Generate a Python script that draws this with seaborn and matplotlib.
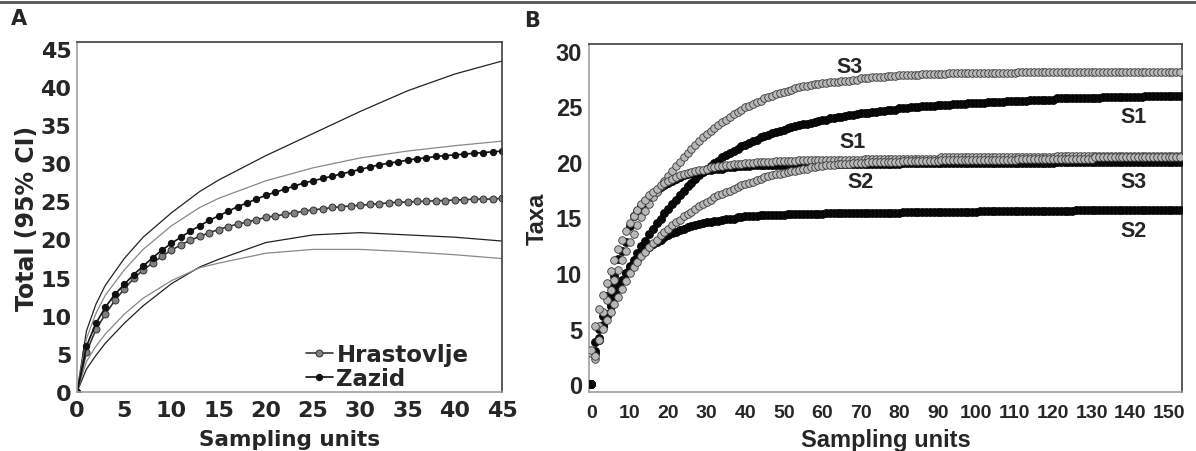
import numpy as np
import pandas as pd
import seaborn as sns
from matplotlib import pyplot as plt
from matplotlib.lines import Line2D
from matplotlib import font_manager

# ---- panel A: rarefaction curves with 95% CI ----
units_a = list(range(46))
hrastovlje = [0.0, 5.2, 8.2, 10.2, 12.0, 13.5, 14.9, 16.0, 16.9, 17.8,
              18.6, 19.3, 19.9, 20.4, 20.9, 21.3, 21.7, 22.0, 22.3, 22.6,
              22.9, 23.1, 23.3, 23.5, 23.7, 23.9, 24.0, 24.2, 24.3, 24.4,
              24.5, 24.6, 24.7, 24.8, 24.9, 24.9, 25.0, 25.0, 25.1, 25.1,
              25.2, 25.2, 25.3, 25.3, 25.3, 25.4]
zazid = [0.0, 6.0, 9.0, 11.1, 12.8, 14.1, 15.4, 16.5, 17.6, 18.6,
         19.5, 20.3, 21.1, 21.8, 22.5, 23.1, 23.7, 24.3, 24.8, 25.3,
         25.8, 26.2, 26.6, 27.0, 27.4, 27.7, 28.0, 28.3, 28.6, 28.9,
         29.2, 29.5, 29.8, 30.0, 30.2, 30.4, 30.6, 30.7, 30.9, 31.0,
         31.1, 31.2, 31.3, 31.4, 31.5, 31.6]

ci_x = [0, 1, 2, 3, 5, 7, 10, 13, 15, 20, 25, 30, 35, 40, 45]
zazid_upper = [0, 8.0, 11.5, 14.0, 17.5, 20.3, 23.5, 26.3, 27.8, 31.0, 33.9, 36.8, 39.5, 41.7, 43.4]
zazid_lower = [0, 3.0, 4.8, 6.4, 9.0, 11.3, 14.2, 16.4, 17.4, 19.6, 20.6, 20.9, 20.6, 20.3, 19.8]
hras_upper = [0, 7.0, 10.3, 12.7, 16.0, 18.7, 21.8, 24.2, 25.4, 27.7, 29.4, 30.7, 31.6, 32.3, 32.9]
hras_lower = [0, 4.0, 6.0, 7.6, 10.2, 12.3, 14.6, 16.3, 16.9, 18.2, 18.7, 18.7, 18.4, 18.0, 17.5]

# ---- panel B: taxa accumulation per site ----
grey_s3 = [3.0, 2.3, 5.2, 6.5, 7.6, 8.5, 9.4, 10.3, 11.2, 12.0,
           12.8, 13.5, 14.3, 15.0, 15.6, 16.2, 16.8, 17.3, 17.8, 18.3,
           18.7, 19.2, 19.6, 20.0, 20.4, 20.8, 21.2, 21.5, 21.9, 22.2,
           22.5, 22.8, 23.0, 23.3, 23.6, 23.8, 24.0, 24.3, 24.5, 24.7,
           24.9, 25.0, 25.2, 25.4, 25.5, 25.7, 25.8, 25.9, 26.1, 26.2,
           26.3, 26.4, 26.5, 26.6, 26.7, 26.8, 26.8, 26.9, 27.0, 27.0,
           27.1, 27.1, 27.2, 27.2, 27.2, 27.3, 27.3, 27.3, 27.4, 27.4,
           27.5, 27.5, 27.5, 27.6, 27.6, 27.6, 27.6, 27.7, 27.7, 27.7,
           27.8, 27.8, 27.8, 27.8, 27.8, 27.8, 27.9, 27.9, 27.9, 27.9,
           27.9, 27.9, 27.9, 28.0, 28.0, 28.0, 28.0, 28.0, 28.0, 28.0,
           28.0, 28.0, 28.0, 28.0, 28.0, 28.0, 28.0, 28.0, 28.0, 28.0,
           28.0, 28.1, 28.1, 28.1, 28.1, 28.1, 28.1, 28.1, 28.1, 28.1,
           28.1, 28.1, 28.1, 28.1, 28.1, 28.1, 28.1, 28.1, 28.1, 28.1,
           28.1, 28.1, 28.1, 28.1, 28.1, 28.1, 28.1, 28.1, 28.1, 28.1,
           28.1, 28.1, 28.1, 28.1, 28.1, 28.1, 28.1, 28.1, 28.1, 28.1,
           28.1, 28.1, 28.1, 28.1]
grey_s1 = [2.8, 5.2, 6.8, 8.0, 9.1, 10.2, 11.2, 12.2, 13.0, 13.8,
           14.5, 15.1, 15.7, 16.2, 16.6, 17.0, 17.3, 17.6, 17.9, 18.1,
           18.3, 18.5, 18.6, 18.8, 18.9, 19.0, 19.1, 19.2, 19.3, 19.3,
           19.4, 19.5, 19.5, 19.6, 19.6, 19.7, 19.7, 19.8, 19.8, 19.8,
           19.9, 19.9, 19.9, 20.0, 20.0, 20.0, 20.0, 20.0, 20.1, 20.1,
           20.1, 20.1, 20.1, 20.1, 20.2, 20.2, 20.2, 20.2, 20.2, 20.2,
           20.2, 20.2, 20.2, 20.2, 20.2, 20.2, 20.2, 20.2, 20.2, 20.2,
           20.2, 20.3, 20.3, 20.3, 20.3, 20.3, 20.3, 20.3, 20.3, 20.3,
           20.3, 20.3, 20.3, 20.3, 20.3, 20.3, 20.3, 20.3, 20.3, 20.3,
           20.3, 20.4, 20.4, 20.4, 20.4, 20.4, 20.4, 20.4, 20.4, 20.4,
           20.4, 20.4, 20.4, 20.4, 20.4, 20.4, 20.4, 20.4, 20.4, 20.4,
           20.4, 20.4, 20.4, 20.4, 20.4, 20.4, 20.4, 20.4, 20.4, 20.4,
           20.4, 20.5, 20.5, 20.5, 20.5, 20.5, 20.5, 20.5, 20.5, 20.5,
           20.5, 20.5, 20.5, 20.5, 20.5, 20.5, 20.5, 20.5, 20.5, 20.5,
           20.5, 20.5, 20.5, 20.5, 20.5, 20.5, 20.5, 20.5, 20.5, 20.5,
           20.5, 20.5, 20.5, 20.5]
grey_s2 = [3.1, 2.5, 4.0, 5.0, 5.8, 6.5, 7.2, 7.8, 8.6, 9.3,
           10.0, 10.5, 11.0, 11.5, 11.9, 12.3, 12.7, 13.0, 13.4, 13.7,
           14.0, 14.3, 14.6, 14.8, 15.1, 15.3, 15.5, 15.8, 16.0, 16.2,
           16.4, 16.6, 16.8, 17.0, 17.1, 17.3, 17.4, 17.6, 17.7, 17.9,
           18.0, 18.1, 18.2, 18.4, 18.5, 18.6, 18.7, 18.8, 18.9, 18.9,
           19.0, 19.1, 19.2, 19.2, 19.3, 19.4, 19.4, 19.5, 19.5, 19.6,
           19.6, 19.7, 19.7, 19.7, 19.8, 19.8, 19.8, 19.8, 19.9, 19.9,
           19.9, 19.9, 20.0, 20.0, 20.0, 20.0, 20.0, 20.0, 20.0, 20.0,
           20.0, 20.1, 20.1, 20.1, 20.1, 20.1, 20.1, 20.1, 20.1, 20.1,
           20.1, 20.2, 20.2, 20.2, 20.2, 20.2, 20.2, 20.2, 20.2, 20.2,
           20.2, 20.2, 20.2, 20.2, 20.2, 20.2, 20.2, 20.2, 20.2, 20.2,
           20.2, 20.3, 20.3, 20.3, 20.3, 20.3, 20.3, 20.3, 20.3, 20.3,
           20.3, 20.3, 20.3, 20.3, 20.3, 20.3, 20.3, 20.3, 20.3, 20.3,
           20.3, 20.4, 20.4, 20.4, 20.4, 20.4, 20.4, 20.4, 20.4, 20.4,
           20.4, 20.4, 20.4, 20.4, 20.4, 20.4, 20.4, 20.4, 20.4, 20.4,
           20.4, 20.4, 20.4, 20.4]
black_s1 = [0.0, 3.0, 4.2, 5.2, 6.1, 7.0, 7.8, 8.6, 9.3, 10.0,
            10.6, 11.2, 11.8, 12.4, 12.9, 13.5, 14.0, 14.5, 14.9, 15.4,
            15.8, 16.2, 16.6, 17.0, 17.4, 17.8, 18.1, 18.5, 18.8, 19.1,
            19.4, 19.6, 19.9, 20.1, 20.4, 20.6, 20.8, 21.0, 21.2, 21.4,
            21.5, 21.7, 21.9, 22.0, 22.2, 22.3, 22.4, 22.6, 22.7, 22.8,
            22.9, 23.0, 23.1, 23.2, 23.3, 23.4, 23.4, 23.5, 23.6, 23.7,
            23.8, 23.8, 23.9, 23.9, 24.0, 24.0, 24.1, 24.2, 24.2, 24.3,
            24.4, 24.4, 24.4, 24.5, 24.5, 24.6, 24.6, 24.7, 24.7, 24.7,
            24.8, 24.8, 24.8, 24.9, 24.9, 24.9, 25.0, 25.0, 25.0, 25.0,
            25.1, 25.1, 25.1, 25.1, 25.2, 25.2, 25.2, 25.2, 25.3, 25.3,
            25.3, 25.3, 25.3, 25.4, 25.4, 25.4, 25.4, 25.4, 25.5, 25.5,
            25.5, 25.5, 25.5, 25.5, 25.6, 25.6, 25.6, 25.6, 25.6, 25.6,
            25.6, 25.7, 25.7, 25.7, 25.7, 25.7, 25.7, 25.7, 25.7, 25.7,
            25.7, 25.7, 25.7, 25.8, 25.8, 25.8, 25.8, 25.8, 25.8, 25.8,
            25.8, 25.8, 25.8, 25.8, 25.9, 25.9, 25.9, 25.9, 25.9, 25.9,
            25.9, 25.9, 25.9, 25.9]
black_s3 = [0.0, 3.8, 5.0, 6.1, 7.9, 8.8, 9.7, 11.3, 12.0, 12.8,
            14.2, 15.1, 15.6, 16.0, 16.4, 16.8, 17.1, 17.4, 17.7, 17.9,
            18.1, 18.3, 18.5, 18.6, 18.8, 18.9, 19.0, 19.1, 19.2, 19.2,
            19.3, 19.3, 19.4, 19.4, 19.4, 19.5, 19.5, 19.5, 19.6, 19.6,
            19.6, 19.6, 19.7, 19.7, 19.7, 19.7, 19.7, 19.7, 19.7, 19.7,
            19.7, 19.7, 19.7, 19.7, 19.7, 19.7, 19.8, 19.8, 19.8, 19.8,
            19.8, 19.8, 19.8, 19.8, 19.8, 19.8, 19.8, 19.8, 19.8, 19.8,
            19.8, 19.8, 19.8, 19.8, 19.8, 19.8, 19.8, 19.8, 19.8, 19.8,
            19.8, 19.9, 19.9, 19.9, 19.9, 19.9, 19.9, 19.9, 19.9, 19.9,
            19.9, 19.9, 19.9, 19.9, 19.9, 19.9, 19.9, 19.9, 19.9, 19.9,
            19.9, 19.9, 19.9, 19.9, 19.9, 19.9, 19.9, 19.9, 19.9, 19.9,
            19.9, 19.9, 19.9, 19.9, 19.9, 19.9, 19.9, 19.9, 19.9, 19.9,
            19.9, 20.0, 20.0, 20.0, 20.0, 20.0, 20.0, 20.0, 20.0, 20.0,
            20.0, 20.0, 20.0, 20.0, 20.0, 20.0, 20.0, 20.0, 20.0, 20.0,
            20.0, 20.0, 20.0, 20.0, 20.0, 20.0, 20.0, 20.0, 20.0, 20.0,
            20.0, 20.0, 20.0, 20.0]
black_s2 = [0.0, 2.8, 4.0, 5.3, 6.3, 7.2, 8.0, 8.8, 9.4, 10.0,
            10.5, 10.9, 11.3, 11.7, 12.0, 12.3, 12.6, 12.8, 13.0, 13.2,
            13.4, 13.6, 13.7, 13.9, 14.0, 14.1, 14.2, 14.3, 14.4, 14.5,
            14.6, 14.6, 14.7, 14.7, 14.8, 14.9, 14.9, 14.9, 15.0, 15.0,
            15.1, 15.1, 15.1, 15.1, 15.2, 15.2, 15.2, 15.2, 15.2, 15.2,
            15.2, 15.3, 15.3, 15.3, 15.3, 15.3, 15.3, 15.3, 15.3, 15.3,
            15.3, 15.4, 15.4, 15.4, 15.4, 15.4, 15.4, 15.4, 15.4, 15.4,
            15.4, 15.4, 15.4, 15.4, 15.4, 15.4, 15.4, 15.4, 15.4, 15.4,
            15.4, 15.5, 15.5, 15.5, 15.5, 15.5, 15.5, 15.5, 15.5, 15.5,
            15.5, 15.5, 15.5, 15.5, 15.5, 15.5, 15.5, 15.5, 15.5, 15.5,
            15.5, 15.6, 15.6, 15.6, 15.6, 15.6, 15.6, 15.6, 15.6, 15.6,
            15.6, 15.6, 15.6, 15.6, 15.6, 15.6, 15.6, 15.6, 15.6, 15.6,
            15.6, 15.6, 15.6, 15.6, 15.6, 15.6, 15.7, 15.7, 15.7, 15.7,
            15.7, 15.7, 15.7, 15.7, 15.7, 15.7, 15.7, 15.7, 15.7, 15.7,
            15.7, 15.7, 15.7, 15.7, 15.7, 15.7, 15.7, 15.7, 15.7, 15.7,
            15.7, 15.7, 15.7, 15.7]

site_labels = ["S3", "S1", "S2", "S1", "S3", "S2"]
site_label_x = [67, 68, 70, 141, 141, 141]
site_label_y = [28.6, 21.8, 18.2, 24.1, 18.2, 13.8]


def main():
    sns.set_theme(style="white")
    available = {f.name for f in font_manager.fontManager.ttflist}
    narrow = "Liberation Sans Narrow" if "Liberation Sans Narrow" in available else "Liberation Sans"
    plt.rcParams["font.family"] = ["DejaVu Sans"]
    plt.rcParams["font.weight"] = "bold"
    arial = ["Liberation Sans", "DejaVu Sans"]

    fig = plt.figure(figsize=(11.96, 4.52), dpi=100)
    ax_a = fig.add_axes([77 / 1196, 1 - 393 / 452, 425 / 1196, 350 / 452])
    ax_b = fig.add_axes([589 / 1196, 1 - 393 / 452, 593 / 1196, 348 / 452])

    # rule across the top
    fig.add_artist(Line2D([0, 1], [1 - 3 / 452] * 2, color="#555555", linewidth=2))

    # ---- panel A ----
    for vals, col in [(zazid_upper, "#222222"), (zazid_lower, "#222222"),
                      (hras_upper, "#888888"), (hras_lower, "#888888")]:
        sns.lineplot(x=ci_x, y=vals, ax=ax_a, color=col, linewidth=0.9)

    sns.lineplot(x=units_a, y=hrastovlje, ax=ax_a, color="#333333", linewidth=1.2,
                 marker="o", markersize=5, markerfacecolor="#808080",
                 markeredgecolor="#333333", markeredgewidth=0.7, label="Hrastovlje")
    sns.lineplot(x=units_a, y=zazid, ax=ax_a, color="#111111", linewidth=1.2,
                 marker="o", markersize=4.5, markerfacecolor="#111111",
                 markeredgecolor="#111111", label="Zazid")

    ax_a.set_xlim(0, 45)
    ax_a.set_ylim(0, 45.9)
    ax_a.set_xticks(range(0, 46, 5))
    ax_a.set_yticks(range(0, 46, 5))
    ax_a.tick_params(axis="x", length=0, pad=6, labelsize=16)
    ax_a.tick_params(axis="y", length=0, pad=4, labelsize=16)
    for lab in ax_a.get_xticklabels() + ax_a.get_yticklabels():
        lab.set_fontweight("heavy")
    ax_a.set_xlabel("Sampling units", fontsize=15.5, fontweight="heavy", labelpad=6)
    ax_a.set_ylabel("Total (95% CI)", fontsize=17, fontweight="heavy", labelpad=1)
    ax_a.legend(loc="upper left", bbox_to_anchor=(0.5, 0.185), frameon=False,
                prop={"size": 16.5, "weight": "heavy"}, handlelength=1.2,
                handletextpad=0.15, labelspacing=0.05, borderpad=0.2)
    ax_a.text(-0.155, 1.04, "A", transform=ax_a.transAxes, fontsize=15,
              fontweight="heavy", va="bottom")

    # ---- panel B ----
    black_sets = [black_s1, black_s3, black_s2]
    grey_sets = [grey_s3, grey_s1, grey_s2]
    for vals in black_sets:
        sns.scatterplot(x=np.arange(len(vals)), y=vals, ax=ax_b, s=34,
                        color="#0a0a0a", edgecolor="#000000", linewidth=0.5, zorder=3)
    for vals in grey_sets:
        sns.scatterplot(x=np.arange(len(vals)), y=vals, ax=ax_b, s=30,
                        color="#b8b8b8", edgecolor="#3a3a3a", linewidth=0.6, zorder=4)

    for lab, lx, ly in zip(site_labels, site_label_x, site_label_y):
        ax_b.text(lx, ly, lab, ha="center", va="center", fontsize=15.5,
                  fontweight="bold", family=arial, zorder=5)

    ax_b.set_xlim(-0.6, 153.5)
    ax_b.set_ylim(-0.7, 30.6)
    ax_b.set_xticks(range(0, 151, 10))
    ax_b.set_yticks(range(0, 31, 5))
    ax_b.tick_params(axis="x", length=0, pad=9)
    ax_b.tick_params(axis="y", length=0, pad=5)
    for lab in ax_b.get_xticklabels():
        lab.set_family([narrow, "DejaVu Sans"])
        lab.set_fontsize(14 if narrow == "Liberation Sans" else 16)
        lab.set_fontweight("bold")
    for lab in ax_b.get_yticklabels():
        lab.set_family(arial)
        lab.set_fontsize(17)
        lab.set_fontweight("bold")
    ax_b.set_xlabel("Sampling units", fontsize=17, fontweight="bold",
                    family=arial, labelpad=5)
    ax_b.set_ylabel("Taxa", fontsize=17, fontweight="bold",
                    family=arial, labelpad=5)
    ax_b.text(-0.11, 1.04, "B", transform=ax_b.transAxes, fontsize=15,
              fontweight="heavy", va="bottom")

    for ax in (ax_a, ax_b):
        ax.spines["left"].set_color("#a0a0a0")
        ax.spines["bottom"].set_color("#a0a0a0")
        ax.spines["top"].set_color("#404040")
        ax.spines["right"].set_color("#404040")
        for sp in ax.spines.values():
            sp.set_linewidth(1.2)
            sp.set_visible(True)
        ax.grid(False)

    fig.savefig("out.png", dpi=100)


if __name__ == "__main__":
    main()
